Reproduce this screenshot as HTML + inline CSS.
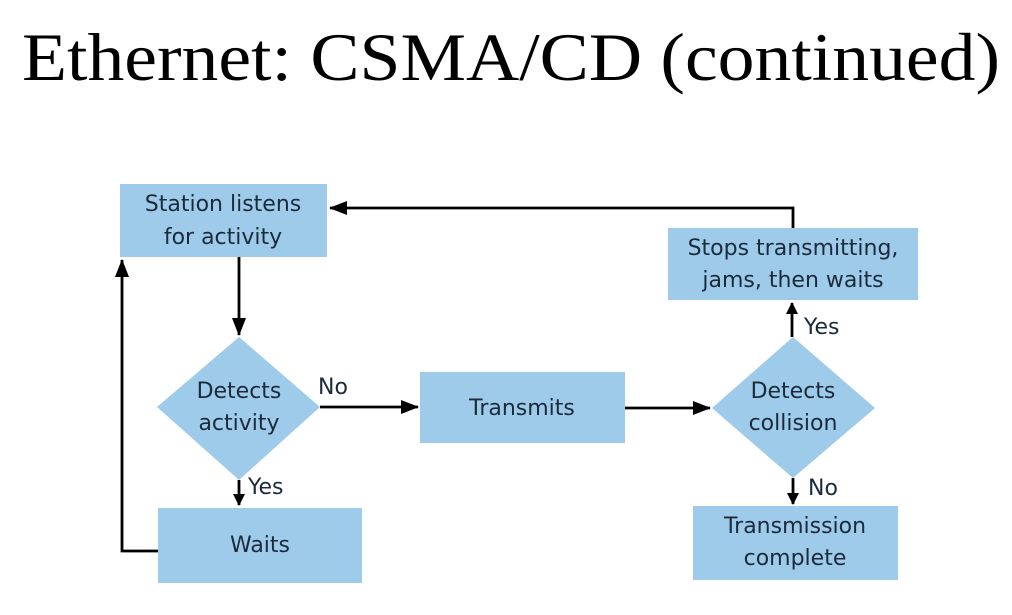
<!DOCTYPE html>
<html><head><meta charset="utf-8"><style>body{margin:0;background:#fff}</style></head><body>
<svg width="1012" height="610" viewBox="0 0 1012 610" xmlns="http://www.w3.org/2000/svg">
<defs><marker id="a" markerWidth="12" markerHeight="12" refX="11" refY="6" orient="auto" markerUnits="userSpaceOnUse"><path d="M0,0 L12,6 L0,12 z" fill="#000"/></marker>
<marker id="b" markerWidth="18" markerHeight="14" refX="17" refY="7" orient="auto" markerUnits="userSpaceOnUse"><path d="M0,0 L18,7 L0,14 z" fill="#000"/></marker></defs>
<text x="22" y="80" font-family="Liberation Serif, serif" font-size="68" textLength="978" lengthAdjust="spacingAndGlyphs" fill="#000">Ethernet: CSMA/CD (continued)</text>
<g fill="#9dcbe9">
<rect x="120" y="184" width="207" height="73"/>
<rect x="158" y="508" width="204" height="75"/>
<rect x="420" y="372" width="205" height="71"/>
<rect x="668" y="228" width="250" height="72"/>
<rect x="693" y="506" width="205" height="74"/>
<polygon points="239,337 320,407 239,480 157,407"/>
<polygon points="793,337 875,408 793,478 712,408"/>
</g>
<g stroke="#000" stroke-width="2.8" fill="none">
<line x1="239" y1="257" x2="239" y2="335" marker-end="url(#b)"/>
<line x1="239" y1="480" x2="239" y2="505" marker-end="url(#a)"/>
<polyline points="158,551 122,551 122,260" marker-end="url(#b)"/>
<line x1="320" y1="407" x2="418" y2="407" marker-end="url(#b)"/>
<line x1="625" y1="408" x2="710" y2="408" marker-end="url(#b)"/>
<line x1="792" y1="337" x2="792" y2="303" marker-end="url(#a)"/>
<line x1="793" y1="478" x2="793" y2="504" marker-end="url(#a)"/>
<polyline points="793,228 793,208 330,208" marker-end="url(#b)"/>
</g>
<g font-family="DejaVu Sans, Liberation Sans, sans-serif" font-size="22" fill="#1c2b3c" text-anchor="middle">
<text x="223" y="211">Station listens</text><text x="223" y="244">for activity</text>
<text x="239" y="398">Detects</text><text x="239" y="430">activity</text>
<text x="260" y="552">Waits</text>
<text x="522" y="415">Transmits</text>
<text x="793" y="255">Stops transmitting,</text><text x="793" y="287">jams, then waits</text>
<text x="793" y="398">Detects</text><text x="793" y="430">collision</text>
<text x="795" y="533">Transmission</text><text x="795" y="565">complete</text>
<g text-anchor="start">
<text x="318" y="394">No</text>
<text x="248" y="494">Yes</text>
<text x="804" y="334">Yes</text>
<text x="808" y="495">No</text>
</g></g>
</svg>
</body></html>
